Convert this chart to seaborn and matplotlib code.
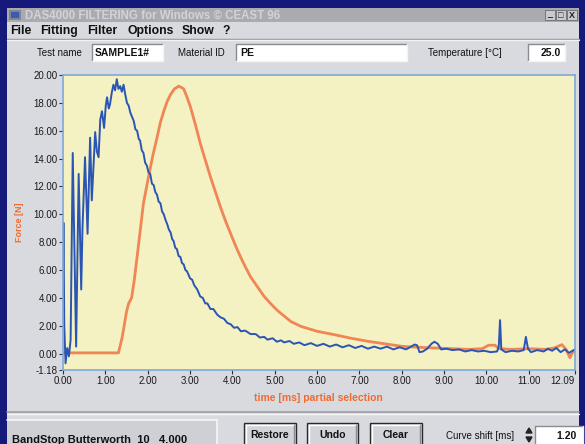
import matplotlib
matplotlib.use("Agg")
import matplotlib.pyplot as plt
from matplotlib.patches import Rectangle, Polygon
from matplotlib.lines import Line2D
import seaborn as sns
import pandas as pd

# ---------------- data ----------------
blue_t = [0.00, 0.01, 0.03, 0.06, 0.10, 0.14, 0.18, 0.23, 0.31, 0.37, 0.43, 0.46, 0.52, 0.58,
          0.64, 0.68, 0.76, 0.80, 0.84, 0.88, 0.92, 0.97, 1.01, 1.04, 1.08, 1.11, 1.15, 1.19,
          1.23, 1.27, 1.31, 1.35, 1.39, 1.43, 1.47, 1.51, 1.55, 1.59, 1.63, 1.67, 1.71, 1.75,
          1.79, 1.82, 1.86, 1.90, 1.94, 1.98, 2.02, 2.06, 2.10, 2.14, 2.18, 2.22, 2.26, 2.30,
          2.34, 2.38, 2.42, 2.46, 2.50, 2.54, 2.58, 2.61, 2.65, 2.69, 2.73, 2.77, 2.81, 2.85,
          2.89, 2.93, 3.00, 3.05, 3.10, 3.17, 3.24, 3.30, 3.36, 3.41, 3.48, 3.55, 3.64, 3.72,
          3.80, 3.88, 3.96, 4.04, 4.12, 4.20, 4.30, 4.43, 4.55, 4.65, 4.75, 4.83, 4.95, 5.05,
          5.15, 5.22, 5.35, 5.45, 5.58, 5.70, 5.85, 6.00, 6.15, 6.30, 6.45, 6.60, 6.75, 6.90,
          7.05, 7.20, 7.35, 7.50, 7.65, 7.80, 7.95, 8.10, 8.25, 8.30, 8.36, 8.42, 8.50, 8.60,
          8.70, 8.77, 8.85, 8.93, 9.05, 9.20, 9.35, 9.50, 9.65, 9.80, 9.95, 10.10, 10.25, 10.29,
          10.32, 10.35, 10.45, 10.60, 10.75, 10.88, 10.93, 10.98, 11.05, 11.20, 11.35, 11.45,
          11.55, 11.65, 11.75, 11.85, 11.95, 12.09]
blue_force = [5.5, 9.4, 2.0, -0.7, 0.4, -0.2, 1.0, 14.4, 0.5, 12.9, 4.6, 9.0, 14.1, 8.6,
              15.5, 11.0, 15.9, 14.5, 14.1, 16.8, 17.4, 16.2, 17.8, 18.4, 17.6, 17.9, 18.7, 19.3,
              18.9, 19.7, 19.0, 19.2, 18.8, 19.3, 18.6, 18.0, 17.8, 17.3, 17.0, 16.7, 16.1, 16.0,
              15.4, 15.3, 14.6, 14.4, 13.7, 13.5, 13.0, 12.9, 12.2, 12.1, 11.6, 11.4, 10.9, 10.8,
              10.2, 10.0, 9.6, 9.3, 8.9, 8.7, 8.2, 8.1, 7.6, 7.5, 7.0, 6.95, 6.5, 6.4,
              6.0, 5.9, 5.4, 5.3, 4.9, 4.6, 4.1, 4.0, 3.6, 3.6, 3.2, 3.2, 2.8, 2.6,
              2.5, 2.2, 2.1, 1.85, 1.9, 1.6, 1.65, 1.4, 1.4, 1.15, 1.2, 1.0, 1.1, 0.85,
              0.95, 0.8, 0.9, 0.7, 0.8, 0.6, 0.75, 0.55, 0.7, 0.5, 0.65, 0.45, 0.6, 0.4,
              0.55, 0.35, 0.5, 0.35, 0.5, 0.3, 0.45, 0.3, 0.55, 0.65, 0.6, 0.1, 0.15, 0.35,
              0.7, 0.85, 0.7, 0.3, 0.35, 0.25, 0.3, 0.15, 0.25, 0.15, 0.2, 0.1, 0.15, 0.5,
              2.4, 0.3, 0.1, 0.2, 0.15, 0.25, 1.2, 0.35, 0.1, 0.25, 0.15, 0.35,
              0.2, 0.4, 0.1, 0.3, 0.05, 0.3]

orange_t = [0.00, 1.25, 1.31, 1.40, 1.50, 1.55, 1.62, 1.68, 1.76, 1.83, 1.90, 2.02, 2.12, 2.22,
            2.30, 2.38, 2.46, 2.54, 2.63, 2.73, 2.80, 2.85, 2.93, 3.01, 3.13, 3.25, 3.37, 3.48,
            3.60, 3.72, 3.84, 3.96, 4.08, 4.19, 4.31, 4.43, 4.59, 4.75, 4.90, 5.06, 5.22, 5.38,
            5.62, 6.00, 6.40, 6.80, 7.20, 7.60, 8.00, 8.40, 8.77, 9.20, 9.57, 9.90, 10.05, 10.20,
            10.30, 10.60, 11.00, 11.40, 11.60, 11.78, 11.88, 11.97, 12.05, 12.09]
orange_force = [0.05, 0.05, 0.05, 1.2, 3.0, 3.6, 4.0, 5.2, 7.2, 9.0, 10.8, 12.7, 14.2, 15.5,
                16.6, 17.4, 18.1, 18.6, 19.0, 19.2, 19.1, 19.0, 18.4, 17.7, 16.4, 15.0, 13.8, 12.7,
                11.6, 10.5, 9.5, 8.6, 7.7, 6.95, 6.2, 5.5, 4.8, 4.1, 3.6, 3.1, 2.7, 2.3,
                1.95, 1.6, 1.36, 1.1, 0.88, 0.7, 0.52, 0.45, 0.4, 0.35, 0.3, 0.35, 0.6, 0.6,
                0.35, 0.3, 0.35, 0.3, 0.4, 0.64, 0.3, -0.3, 0.2, 0.1]

y_ticks = [-1.18, 0, 2, 4, 6, 8, 10, 12, 14, 16, 18, 20]
y_tick_labels = ["-1.18", "0.00", "2.00", "4.00", "6.00", "8.00", "10.00", "12.00",
                 "14.00", "16.00", "18.00", "20.00"]
x_ticks = [0, 1, 2, 3, 4, 5, 6, 7, 8, 9, 10, 11, 12.09]
x_tick_labels = ["0.00", "1.00", "2.00", "3.00", "4.00", "5.00", "6.00", "7.00", "8.00",
                 "9.00", "10.00", "11.00", "12.09"]

menu_items = ["File", "Fitting", "Filter", "Options", "Show", "?"]

df_blue = pd.DataFrame({"t": blue_t, "force": blue_force})
df_orange = pd.DataFrame({"t": orange_t, "force": orange_force})

# ---------------- styling ----------------
sns.set_theme(style="white")
plt.rcParams["font.family"] = ["Liberation Sans", "DejaVu Sans"]

W, H = 585, 444
NAVY = "#15197a"
GREY = "#d9dadf"
fig = plt.figure(figsize=(W / 100, H / 100), dpi=100)
fig.patch.set_facecolor(NAVY)


def fx(x):
    return x / W


def fy(y):
    return 1 - y / H


def rect(x0, y0, x1, y1, fc, ec="none", lw=0.0, z=1):
    fig.add_artist(Rectangle((fx(x0), fy(y1)), fx(x1) - fx(x0), fy(y0) - fy(y1),
                             transform=fig.transFigure, facecolor=fc, edgecolor=ec,
                             linewidth=lw, zorder=z))


def hline(x0, x1, y, color, lw=1.0, z=2):
    fig.add_artist(Line2D([fx(x0), fx(x1)], [fy(y), fy(y)], transform=fig.transFigure,
                          color=color, lw=lw, zorder=z))


def vline(x, y0, y1, color, lw=1.0, z=2):
    fig.add_artist(Line2D([fx(x), fx(x)], [fy(y0), fy(y1)], transform=fig.transFigure,
                          color=color, lw=lw, zorder=z))


def text(x, y, s, size=7, weight="normal", color="#111111", ha="left", va="center", z=5):
    fig.text(fx(x), fy(y), s, fontsize=size, fontweight=weight, color=color,
             ha=ha, va=va, zorder=z)


def sunken_box(x0, y0, x1, y1):
    rect(x0, y0, x1, y1, "white", z=2)
    hline(x0, x1, y0, "#8a8c92", 1.0, 3)
    vline(x0, y0, y1, "#8a8c92", 1.0, 3)
    hline(x0, x1, y1, "#f4f4f4", 1.0, 3)
    vline(x1, y0, y1, "#f4f4f4", 1.0, 3)


def button(x0, y0, x1, y1, label):
    rect(x0, y0, x1, y1, "#d3d4d9", ec="#2a2a2a", lw=1.0, z=2)
    hline(x0 + 2, x1 - 2, y0 + 2, "white", 1.0, 3)
    vline(x0 + 2, y0 + 2, y1, "white", 1.0, 3)
    vline(x1 - 2, y0 + 2, y1, "#8a8c92", 1.0, 3)
    text((x0 + x1) / 2, y0 + 12, label, size=7.5, weight="bold", ha="center")


# window body
rect(7, 8, 579, 444, GREY, z=0.5)
# title bar
rect(7, 8, 579, 22, "#a9abb1", z=1)
rect(9, 10, 21, 20, "#7f8591", z=2)
rect(11, 12, 19, 18, "#3a5bb0", z=3)
text(25, 15.5, "DAS4000 FILTERING for Windows \u00a9 CEAST 96", size=8.3, weight="bold",
     color="#d2d3d8")
for bx, glyph in [(545, "_"), (556, "\u25a1"), (567, "X")]:
    rect(bx, 10, bx + 10, 20, "#c9cace", ec="#6a6c72", lw=0.6, z=2)
    text(bx + 5, 15, glyph, size=6.5, weight="bold", ha="center", color="#222222", z=4)

# menu bar
menu_x = [10, 40, 87, 127, 182, 222]
for mx, item in zip(menu_x, menu_items):
    text(mx, 31, item, size=8.8, weight="bold", color="#101010")
hline(7, 579, 39, "#8f9197", 1.0)
hline(7, 579, 40.5, "#f2f2f4", 1.0)

# input row
text(37, 52.5, "Test name", size=7)
sunken_box(92, 44, 163, 61)
text(95, 52.5, "SAMPLE1#", size=7.5, weight="bold")
text(178, 52.5, "Material ID", size=7)
sunken_box(236, 44, 407, 61)
text(240, 52.5, "PE", size=7.5, weight="bold")
text(428, 52.5, "Temperature [\u00b0C]", size=7)
sunken_box(528, 44, 565, 61)
text(561, 52.5, "25.0", size=7.5, weight="bold", ha="right")

# bottom panel
hline(7, 579, 412, "#9a9ca2", 1.2)
hline(7, 579, 413.5, "#f4f4f6", 1.0)
rect(7, 420, 217, 446, "#cfd0d5", z=1)
hline(7, 217, 420, "#f6f6f8", 1.2)
vline(217, 420, 446, "#f6f6f8", 1.2)
text(12, 440, "BandStop Butterworth  10   4.000", size=8, weight="bold")
button(244, 423, 296, 447, "Restore")
button(307, 423, 358, 447, "Undo")
button(370, 423, 422, 447, "Clear")
text(480, 436, "Curve shift [ms]", size=7, ha="center")
fig.add_artist(Polygon([[fx(526), fy(433)], [fx(532), fy(433)], [fx(529), fy(428)]],
                       closed=True, transform=fig.transFigure, color="#222222", zorder=4))
fig.add_artist(Polygon([[fx(526), fy(437)], [fx(532), fy(437)], [fx(529), fy(442)]],
                       closed=True, transform=fig.transFigure, color="#222222", zorder=4))
sunken_box(535, 426, 583, 446)
text(577, 436, "1.20", size=7.5, weight="bold", ha="right")

# ---------------- plot ----------------
ax = fig.add_axes([fx(63), fy(370), fx(575) - fx(63), fy(75) - fy(370)])
ax.set_zorder(10)
ax.set_facecolor("#f4f1c2")
sns.lineplot(data=df_orange, x="t", y="force", ax=ax, estimator=None, sort=False,
             color="#f07a48", lw=2.0, alpha=0.9)
sns.lineplot(data=df_blue, x="t", y="force", ax=ax, estimator=None, sort=False,
             color="#2a55b5", lw=1.4)
ax.set_xlim(0, 12.09)
ax.set_ylim(-1.18, 20)
ax.set_xticks(x_ticks)
ax.set_xticklabels(x_tick_labels)
ax.set_yticks(y_ticks)
ax.set_yticklabels(y_tick_labels)
ax.tick_params(axis="both", which="both", direction="out", length=3, width=0.8,
               color="#303030", labelsize=7, labelcolor="#1a1a1a", pad=1,
               bottom=True, left=True)
ax.get_xticklabels()[-1].set_ha("right")
for sp in ax.spines.values():
    sp.set_color("#7fa8d8")
    sp.set_linewidth(1.2)
ax.set_xlabel("time [ms] partial selection", fontsize=7.5, fontweight="bold",
              color="#f26a2e")
ax.set_ylabel("Force [N]", fontsize=6.5, fontweight="bold", color="#f26a2e")
ax.xaxis.set_label_coords((318 - 63) / 512, (370 - 398) / 295)
ax.yaxis.set_label_coords((19 - 63) / 512, (370 - 222) / 295)
ax.xaxis.label.set_va("center")
ax.yaxis.label.set_va("center")
ax.grid(False)

fig.savefig("out.png", dpi=100, facecolor=fig.get_facecolor())
